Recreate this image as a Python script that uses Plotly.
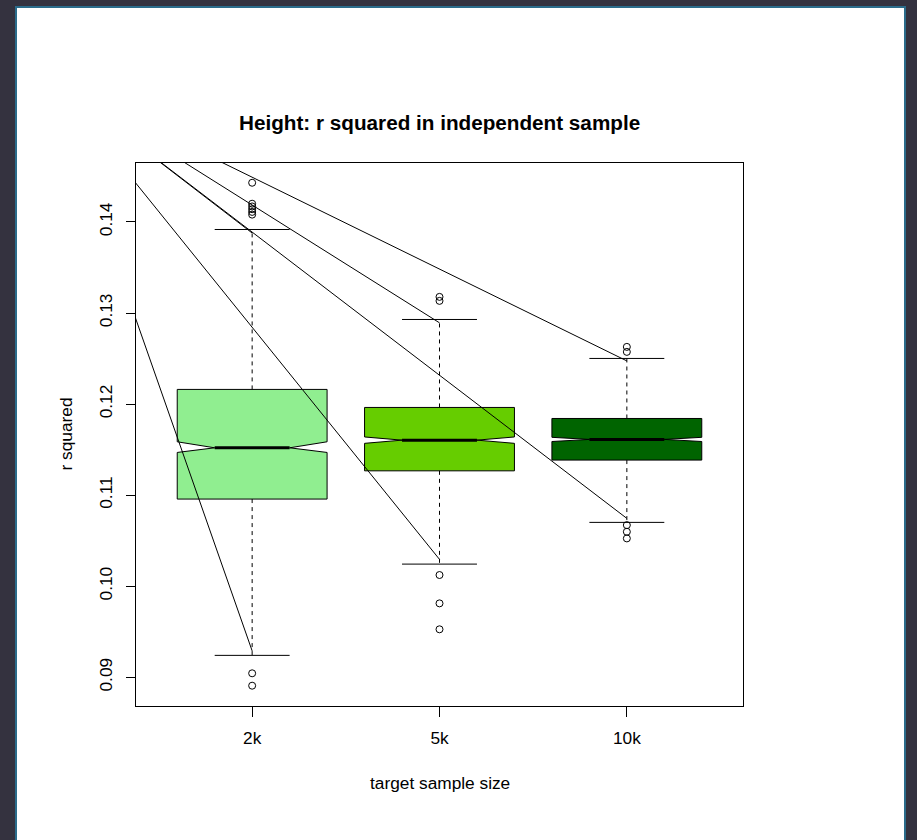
import plotly.graph_objects as go

# ---------------- data ----------------
categories = ["2k", "5k", "10k"]
positions = [1, 2, 3]
q1 = [0.10957, 0.11267, 0.11385]
median = [0.11520, 0.11604, 0.11612]
q3 = [0.12161, 0.11963, 0.11842]
notch_lo = [0.11469, 0.11569, 0.11589]
notch_hi = [0.11586, 0.11639, 0.11635]
whisker_lo = [0.09241, 0.10243, 0.10701]
whisker_hi = [0.13917, 0.12929, 0.12501]
outliers_2k = [0.1443, 0.1420, 0.1417, 0.1414, 0.1411, 0.1408, 0.09044, 0.08908]
outliers_5k = [0.13177, 0.13133, 0.10123, 0.09812, 0.09527]
outliers_10k = [0.12628, 0.12573, 0.10671, 0.10598, 0.10525]
line_origin_x = -0.07
line_origin_y = 0.1557
line_end_lo = [0.0929, 0.10295, 0.10745]
line_end_hi = [0.13878, 0.12892, 0.12474]
box_colors = ["#90EE90", "#66CD00", "#006400"]
y_ticks = [0.09, 0.10, 0.11, 0.12, 0.13, 0.14]
y_tick_labels = ["0.09", "0.10", "0.11", "0.12", "0.13", "0.14"]

title_text = "Height: r squared in independent sample"
x_title = "target sample size"
y_title = "r squared"

# ---------------- layout geometry ----------------
W, H = 917, 840
ML, MR, MT, MB = 136, 174, 163, 134
PW = W - ML - MR
PH = H - MT - MB


def pxx(px):
    return (px - ML) / PW


def pxy(py):
    return (H - MB - py) / PH


FONT = "Liberation Sans, Arial, Helvetica, sans-serif"
half_w = 0.4
notch_frac = 0.5
staple_half = 0.2

fig = go.Figure()
outliers = [outliers_2k, outliers_5k, outliers_10k]

for i, c in enumerate(positions):
    xs = [c - half_w, c - half_w, c - half_w * notch_frac, c - half_w, c - half_w,
          c + half_w, c + half_w, c + half_w * notch_frac, c + half_w, c + half_w, c - half_w]
    ys = [q1[i], notch_lo[i], median[i], notch_hi[i], q3[i],
          q3[i], notch_hi[i], median[i], notch_lo[i], q1[i], q1[i]]
    fig.add_trace(go.Scatter(x=xs, y=ys, mode="lines", fill="toself",
                             fillcolor=box_colors[i], line=dict(color="black", width=1),
                             hoverinfo="skip"))
    # median
    fig.add_trace(go.Scatter(x=[c - half_w * notch_frac, c + half_w * notch_frac],
                             y=[median[i], median[i]], mode="lines",
                             line=dict(color="black", width=3)))
    # whiskers
    fig.add_trace(go.Scatter(x=[c, c], y=[q3[i], whisker_hi[i]], mode="lines",
                             line=dict(color="black", width=1, dash="4px,4px")))
    fig.add_trace(go.Scatter(x=[c, c], y=[q1[i], whisker_lo[i]], mode="lines",
                             line=dict(color="black", width=1, dash="4px,4px")))
    # staples
    for v in (whisker_hi[i], whisker_lo[i]):
        fig.add_trace(go.Scatter(x=[c - staple_half, c + staple_half], y=[v, v],
                                 mode="lines", line=dict(color="black", width=1)))
    # outliers
    fig.add_trace(go.Scatter(x=[c] * len(outliers[i]), y=outliers[i], mode="markers",
                             marker=dict(symbol="circle-open", size=7,
                                         color="black", line=dict(width=1))))

# straight lines from a common origin to the interval ends
for i, c in enumerate(positions):
    for v in (line_end_lo[i], line_end_hi[i]):
        fig.add_trace(go.Scatter(x=[line_origin_x, c], y=[line_origin_y, v],
                                 mode="lines", line=dict(color="black", width=1)))

axis_common = dict(showgrid=False, zeroline=False, showline=True, linecolor="black",
                   linewidth=1, mirror=True, ticks="outside", tickcolor="black",
                   tickwidth=1, tickfont=dict(family=FONT, size=17.3, color="black"))

fig.update_layout(
    width=W, height=H,
    margin=dict(l=ML, r=MR, t=MT, b=MB, pad=0),
    paper_bgcolor="#34323f",
    plot_bgcolor="white",
    showlegend=False,
    font=dict(family=FONT, color="black"),
    xaxis=dict(range=[0.38, 3.62], tickvals=positions, ticktext=categories,
               ticklen=10, ticklabelstandoff=6, **axis_common),
    yaxis=dict(range=[0.08685, 0.14647], tickvals=y_ticks, ticktext=y_tick_labels,
               ticklen=9, tickangle=-90, ticklabelstandoff=7, **axis_common),
    shapes=[dict(type="rect", xref="paper", yref="paper", layer="below",
                 x0=pxx(16), x1=pxx(905), y0=pxy(860), y1=pxy(7),
                 fillcolor="white", line=dict(color="#2b6c8b", width=2))],
    annotations=[
        dict(text="<b>" + title_text + "</b>", xref="paper", yref="paper",
             x=0.5, y=pxy(122), xanchor="center", yanchor="middle", showarrow=False,
             font=dict(family=FONT, size=20.7, color="black")),
        dict(text=x_title, xref="paper", yref="paper", x=0.5, y=pxy(783),
             xanchor="center", yanchor="middle", showarrow=False,
             font=dict(family=FONT, size=17.3, color="black")),
        dict(text=y_title, xref="paper", yref="paper", x=pxx(65), y=0.5,
             xanchor="center", yanchor="middle", showarrow=False, textangle=-90,
             font=dict(family=FONT, size=17.3, color="black")),
    ],
)

fig.write_html("out.html")
